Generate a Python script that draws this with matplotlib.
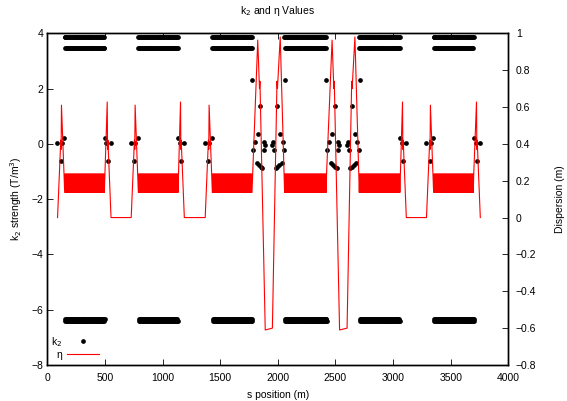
import numpy as np
import matplotlib.pyplot as plt
from matplotlib.ticker import FuncFormatter

plt.rcParams['font.family'] = ['Liberation Sans', 'DejaVu Sans']
plt.rcParams['font.size'] = 7.5

# -----------------------------
# Lattice layout (s in metres)
# -----------------------------
arc_start = [151, 790, 1432, 2059, 2707, 3352]
arc_end = [498, 1134, 1779, 2424, 3060, 3702]

# straights between consecutive arcs:
# 'A' = dispersion suppressed to zero, 'B' = large dispersion swing
straight_type = ['A', 'A', 'B', 'B', 'A']

# periodic arc cell
cell_len = 8.0
eta_cell = [0.136, 0.237]            # dispersion at QD / QF
sext_k2 = [3.87, 3.48, -6.33, -6.42]  # SF1, SF2, SD1, SD2
sext_pos = [1.0, 3.0, 5.0, 7.0]       # position inside the cell

# dispersion in the straights, (offset from arc edge, eta)
eta_A_out = [(22, 0.627), (25, 0.37), (28, 0.42), (55, 0.0)]
eta_A_in = [(-62, 0.0), (-34, 0.42), (-31, 0.37), (-28, 0.61)]
eta_B_out = [(47, 0.963), (62, 0.70), (66, 0.74), (112, -0.61)]
eta_B_in = [(-106, -0.60), (-66, 0.74), (-62, 0.70), (-38, 0.98)]

# straight-section sextupoles, (offset from arc edge, k2)
k2_A_out = [(2, 0.227), (15, 0.03), (26, -0.63), (55, 0.03)]
k2_A_in = [(-63, 0.03), (-35, -0.63), (-25, 0.03), (-7, 0.227)]
k2_B_out = [(-3, 2.31), (5, -0.23), (23, 0.05), (45, 0.34), (68, 1.37),
            (38, -0.69), (55, -0.77), (72, -0.83), (87, -0.87),
            (98, 0.05), (98, -0.23), (110, -0.05)]
k2_B_in = [(5, 2.31), (-2, -0.23), (-18, 0.05), (-40, 0.34), (-66, 1.37),
           (-26, -0.69), (-46, -0.77), (-63, -0.83), (-78, -0.87),
           (-98, 0.05), (-92, -0.23), (-106, -0.05)]

x_ticks = [0, 500, 1000, 1500, 2000, 2500, 3000, 3500, 4000]
k2_ticks = [-8, -6, -4, -2, 0, 2, 4]
eta_ticks = [-0.8, -0.6, -0.4, -0.2, 0, 0.2, 0.4, 0.6, 0.8, 1]

# -----------------------------
# Assemble the optics along s
# -----------------------------
eta_s, eta_v = [], []
k2_s, k2_v = [], []


def add(points, edge, s_list, v_list):
    for ds, v in points:
        s_list.append(edge + ds)
        v_list.append(v)


for i in range(len(arc_start)):
    if i == 0:
        add(eta_A_in, arc_start[0], eta_s, eta_v)
        add(k2_A_in, arc_start[0], k2_s, k2_v)
    else:
        kind = straight_type[i - 1]
        e_out, e_in = (eta_A_out, eta_A_in) if kind == 'A' else (eta_B_out, eta_B_in)
        k_out, k_in = (k2_A_out, k2_A_in) if kind == 'A' else (k2_B_out, k2_B_in)
        add(e_out, arc_end[i - 1], eta_s, eta_v)
        add(e_in, arc_start[i], eta_s, eta_v)
        add(k_out, arc_end[i - 1], k2_s, k2_v)
        add(k_in, arc_start[i], k2_s, k2_v)

    # arc: repeat the cell
    s_arc = np.arange(arc_start[i], arc_end[i] + 0.1, cell_len / 2)
    eta_s.extend(s_arc)
    eta_v.extend(np.resize(eta_cell, len(s_arc)))
    for k, pos in zip(sext_k2, sext_pos):
        s_sx = np.arange(arc_start[i] + pos - 2, arc_end[i] + 2, cell_len)
        k2_s.extend(s_sx)
        k2_v.extend([k] * len(s_sx))

add(eta_A_out, arc_end[-1], eta_s, eta_v)
add(k2_A_out, arc_end[-1], k2_s, k2_v)

# -----------------------------
# Plotting
# -----------------------------
fig = plt.figure(figsize=(5.67, 4.01), dpi=100)
ax = fig.add_axes([0.0834, 0.0898, 0.8131, 0.8272])
ax2 = ax.twinx()

p1, = ax.plot(k2_s, k2_v, 'o', color='black', markersize=3.4,
              markeredgewidth=0, label='k$_2$')
p2, = ax2.plot(eta_s, eta_v, '-', color='red', linewidth=0.8, label='η')

ax.set_xlim(0, 4000)
ax.set_ylim(-8, 4)
ax2.set_ylim(-0.8, 1)

ax.set_xticks(x_ticks)
ax.set_yticks(k2_ticks)
ax2.set_yticks(eta_ticks)
ax2.yaxis.set_major_formatter(FuncFormatter(lambda v, p: ('%g' % v).replace('-', '\u2212')))

ax.tick_params(axis='x', direction='in', length=4, width=0.6, top=True, pad=5.5)
ax.tick_params(axis='y', direction='in', length=4, width=0.6, right=False, pad=3)
ax2.tick_params(axis='y', direction='in', length=4, width=0.6, pad=5.5)

for a in (ax, ax2):
    for sp in a.spines.values():
        sp.set_linewidth(1.0)

ax.set_title('k$_2$ and η Values', fontsize=7.5, pad=14)
ax.set_xlabel('s position (m)', labelpad=5)
ax.set_ylabel('k$_2$ strength (T/m$^3$)', labelpad=5)
ax2.set_ylabel('Dispersion (m)', labelpad=13)

ax.legend(handles=[p1, p2], loc='lower left', bbox_to_anchor=(-0.01, -0.01),
          frameon=False, markerfirst=False, numpoints=1, handlelength=3.0,
          handletextpad=0.5, labelspacing=0.1, borderpad=0.3)

fig.savefig('out.png', dpi=100)
plt.close(fig)
